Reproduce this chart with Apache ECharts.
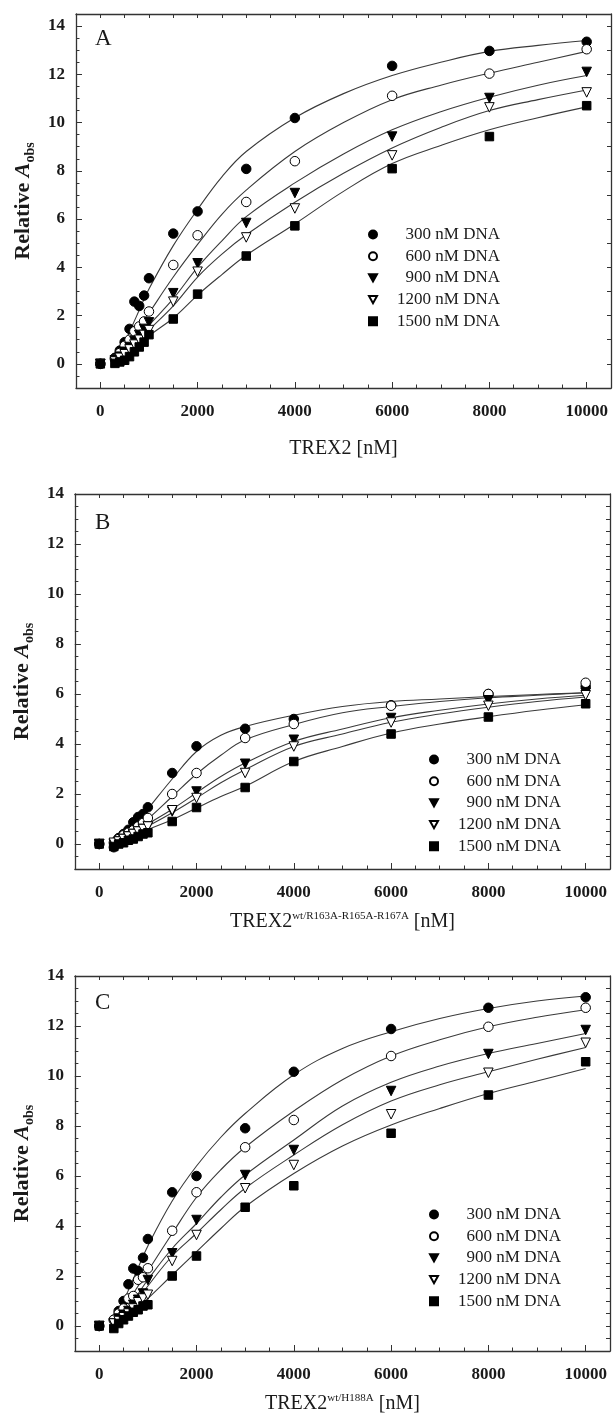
<!DOCTYPE html>
<html><head><meta charset="utf-8">
<script src="https://cdn.jsdelivr.net/npm/echarts@6/dist/echarts.min.js"></script>
<style>html,body{margin:0;padding:0;background:#fff}#c{width:616px;height:1420px}</style>
</head><body><div id="c"></div>
<script>
// ---------- data ----------
const seriesNames = ['300 nM DNA', '600 nM DNA', '900 nM DNA', '1200 nM DNA', '1500 nM DNA'];
const pointX = [0, 300, 400, 500, 600, 700, 800, 900, 1000, 1500, 2000, 3000, 4000, 6000, 8000, 10000];
const fitX = [300, 500, 750, 1000, 1500, 2000, 2500, 3000, 4000, 5000, 6000, 7000, 8000, 9000, 10000];
const xTickValues = [0, 2000, 4000, 6000, 8000, 10000];
const yTickValues = [0, 2, 4, 6, 8, 10, 12, 14];
const panelLetters = ['A', 'B', 'C'];

// Panel A (TREX2)
const a300 = [0, 0.25, 0.55, 0.9, 1.45, 2.58, 2.4, 2.83, 3.55, 5.40, 6.32, 8.08, 10.19, 12.35, 12.97, 13.35];
const a600 = [0, 0.2, 0.45, 0.75, 1.0, 1.35, 1.55, 1.76, 2.17, 4.10, 5.33, 6.71, 8.40, 11.11, 12.03, 13.04];
const a900 = [0, 0.15, 0.3, 0.5, 0.7, 0.95, 1.2, 1.45, 1.72, 2.93, 4.17, 5.84, 7.08, 9.42, 11.02, 12.10];
const a1200 = [0, 0.1, 0.25, 0.4, 0.6, 0.8, 1.0, 1.2, 1.4, 2.58, 3.82, 5.24, 6.44, 8.64, 10.63, 11.25];
const a1500 = [0, 0.02, 0.08, 0.15, 0.3, 0.5, 0.7, 0.9, 1.21, 1.86, 2.89, 4.47, 5.72, 8.09, 9.42, 10.70];
const af300 = [0.2, 0.9, 2.0, 3.1, 4.9, 6.4, 7.75, 8.8, 10.2, 11.2, 11.95, 12.5, 12.95, 13.2, 13.4];
const af600 = [0.15, 0.6, 1.35, 2.1, 3.6, 4.95, 6.2, 7.2, 8.8, 10.0, 10.95, 11.55, 12.05, 12.5, 12.95];
const af900 = [0.1, 0.45, 1.0, 1.6, 2.7, 4.0, 5.1, 6.1, 7.5, 8.7, 9.7, 10.45, 11.05, 11.55, 11.95];
const af1200 = [0.05, 0.35, 0.85, 1.4, 2.4, 3.6, 4.55, 5.35, 6.7, 7.9, 8.95, 9.8, 10.5, 10.95, 11.35];
const af1500 = [0.0, 0.2, 0.65, 1.15, 1.9, 2.85, 3.7, 4.5, 5.8, 7.15, 8.3, 9.05, 9.7, 10.2, 10.65];

// Panel B (TREX2 wt/R163A-R165A-R167A)
const b300 = [0, -0.13, 0.24, 0.4, 0.57, 0.87, 1.08, 1.2, 1.47, 2.84, 3.91, 4.61, 5.0, 5.55, 6.0, 6.3];
const b600 = [0, 0.05, 0.2, 0.35, 0.45, 0.55, 0.7, 0.84, 1.04, 2.0, 2.84, 4.24, 4.8, 5.53, 6.0, 6.45];
const b900 = [0, 0.0, 0.1, 0.2, 0.3, 0.4, 0.5, 0.6, 0.7, 1.3, 2.1, 3.21, 4.17, 5.04, 5.75, 6.05];
const b1200 = [0, 0.05, 0.1, 0.2, 0.3, 0.4, 0.5, 0.6, 0.7, 1.35, 1.84, 2.84, 3.9, 4.86, 5.53, 5.95];
const b1500 = [0, -0.1, 0.0, 0.05, 0.15, 0.2, 0.3, 0.4, 0.45, 0.9, 1.46, 2.26, 3.3, 4.4, 5.08, 5.61];
const bf300 = [0.0, 0.3, 0.8, 1.4, 2.6, 3.7, 4.35, 4.7, 5.15, 5.5, 5.7, 5.8, 5.9, 5.98, 6.05];
const bf600 = [0.05, 0.25, 0.6, 1.0, 1.9, 2.8, 3.55, 4.17, 4.78, 5.25, 5.5, 5.7, 5.85, 5.95, 6.05];
const bf900 = [0.05, 0.2, 0.5, 0.8, 1.39, 2.05, 2.7, 3.24, 4.1, 4.6, 5.05, 5.35, 5.6, 5.8, 5.95];
const bf1200 = [0.05, 0.2, 0.45, 0.71, 1.25, 1.84, 2.45, 2.97, 3.9, 4.4, 4.87, 5.2, 5.47, 5.7, 5.88];
const bf1500 = [0.0, 0.1, 0.3, 0.57, 0.97, 1.44, 1.9, 2.31, 3.3, 3.9, 4.44, 4.8, 5.09, 5.35, 5.57];

// Panel C (TREX2 wt/H188A)
const c300 = [0, 0.25, 0.6, 1.0, 1.67, 2.3, 2.2, 2.73, 3.48, 5.35, 6.0, 7.91, 10.17, 11.88, 12.73, 13.15];
const c600 = [0, 0.25, 0.5, 0.7, 1.1, 1.2, 1.85, 1.95, 2.31, 3.81, 5.35, 7.15, 8.24, 10.8, 11.97, 12.73];
const c900 = [0, 0.1, 0.3, 0.45, 0.6, 0.85, 1.05, 1.3, 1.84, 2.91, 4.24, 6.04, 7.04, 9.4, 10.88, 11.84];
const c1200 = [0, 0.1, 0.2, 0.35, 0.5, 0.7, 0.95, 1.1, 1.25, 2.6, 3.64, 5.51, 6.44, 8.47, 10.13, 11.33];
const c1500 = [0, -0.1, 0.1, 0.25, 0.4, 0.55, 0.65, 0.8, 0.85, 2.0, 2.8, 4.75, 5.61, 7.71, 9.24, 10.57];
const cf300 = [0.2, 1.0, 2.1, 3.2, 5.0, 6.4, 7.55, 8.5, 10.05, 11.1, 11.77, 12.3, 12.7, 13.0, 13.2];
const cf600 = [0.15, 0.7, 1.45, 2.2, 3.7, 5.15, 6.25, 7.15, 8.6, 9.85, 10.8, 11.45, 11.97, 12.35, 12.65];
const cf900 = [0.1, 0.5, 1.15, 1.85, 3.1, 4.1, 5.15, 6.04, 7.44, 8.8, 9.75, 10.4, 10.9, 11.3, 11.7];
const cf1200 = [0.05, 0.4, 0.95, 1.6, 2.8, 3.71, 4.65, 5.51, 6.84, 8.05, 9.0, 9.65, 10.17, 10.67, 11.14];
const cf1500 = [0.0, 0.25, 0.65, 1.1, 2.04, 2.97, 3.9, 4.77, 6.1, 7.2, 8.04, 8.7, 9.3, 9.8, 10.3];

const panelPoints = [[a300, a600, a900, a1200, a1500], [b300, b600, b900, b1200, b1500], [c300, c600, c900, c1200, c1500]];
const panelFits = [[af300, af600, af900, af1200, af1500], [bf300, bf600, bf900, bf1200, bf1500], [cf300, cf600, cf900, cf1200, cf1500]];
const xNames = ['TREX2 [nM]', 'TREX2{sup|wt/R163A-R165A-R167A} [nM]', 'TREX2{sup|wt/H188A} [nM]'];

// ---------- layout / style ----------
const SERIF = '"Liberation Serif", "Times New Roman", serif';
const INK = '#1a1a1a';
const grids = [
  {left: 76, top: 14, width: 535, height: 374, yMax: 14.5, xGap: 51, rightInt: 1,
   legend: {left: 368, top: 226}, letter: {x: 95, y: 27}},
  {left: 73, top: 494, width: 537, height: 375, yMax: 14, xGap: 43, rightInt: 0.5,
   legend: {left: 429, top: 751}, letter: {x: 95, y: 511}},
  {left: 73, top: 976, width: 537, height: 375, yMax: 14, xGap: 43, rightInt: 0.5,
   legend: {left: 429, top: 1206}, letter: {x: 95, y: 991}}
];
const symbols = [
  {symbol: 'circle', fill: '#000', size: 9.5},
  {symbol: 'circle', fill: '#fff', size: 9.5},
  {symbol: 'path://M0,0L10,0L5,9Z', fill: '#000', size: 9.5},
  {symbol: 'path://M0,0L10,0L5,9Z', fill: '#fff', size: 9.5},
  {symbol: 'rect', fill: '#000', size: 8.5}
];

const option = {
  animation: false,
  backgroundColor: '#fff',
  grid: [], xAxis: [], yAxis: [], series: [], legend: [], title: []
};

grids.forEach((g, p) => {
  option.grid.push({left: g.left, top: g.top, width: g.width, height: g.height, containLabel: false});
  const lineStyle = {color: '#333', width: 1.3};
  // x axes
  option.xAxis.push({
    gridIndex: p, type: 'value', min: -500, max: 10500, position: 'bottom',
    axisLine: {show: true, onZero: false, lineStyle},
    axisTick: {show: true, inside: true, length: 6, customValues: xTickValues, lineStyle: {color: '#333'}},
    axisLabel: {show: true, customValues: xTickValues, margin: 15, fontFamily: SERIF, fontWeight: 'bold', fontSize: 17, color: INK,
      formatter: v => String(v)},
    splitLine: {show: false},
    name: xNames[p], nameLocation: 'middle', nameGap: g.xGap,
    nameTextStyle: {fontFamily: SERIF, fontSize: 20, color: INK, lineHeight: 20,
      rich: {sup: {fontFamily: SERIF, fontSize: 11, lineHeight: 11, padding: [0, 0, 12, 0], color: INK}}}
  });
  option.xAxis.push({
    gridIndex: p, type: 'value', min: -500, max: 10500, interval: 500, position: 'bottom',
    axisLine: {show: false, onZero: false}, axisLabel: {show: false}, splitLine: {show: false},
    axisTick: {show: true, inside: true, length: 3.5, lineStyle: {color: '#333'}}
  });
  option.xAxis.push({
    gridIndex: p, type: 'value', min: -500, max: 10500, interval: 500, position: 'top',
    axisLine: {show: true, onZero: false, lineStyle}, axisLabel: {show: false}, splitLine: {show: false},
    axisTick: {show: true, inside: true, length: 4, lineStyle: {color: '#333'}}
  });
  // y axes
  option.yAxis.push({
    gridIndex: p, type: 'value', min: -1, max: g.yMax, position: 'left',
    axisLine: {show: true, onZero: false, lineStyle},
    axisTick: {show: true, inside: true, length: 6, customValues: yTickValues, lineStyle: {color: '#333'}},
    axisLabel: {show: true, customValues: yTickValues, margin: 11, fontFamily: SERIF, fontWeight: 'bold', fontSize: 17, color: INK},
    splitLine: {show: false},
    name: '{r|Relative }{i|A}{s|obs}', nameLocation: 'middle', nameGap: 40,
    nameTextStyle: {fontFamily: SERIF, fontWeight: 'bold', fontSize: 22, color: INK,
      rich: {
        r: {fontFamily: SERIF, fontWeight: 'bold', fontSize: 22, lineHeight: 22, color: INK},
        i: {fontFamily: SERIF, fontWeight: 'bold', fontStyle: 'italic', fontSize: 22, lineHeight: 22, color: INK},
        s: {fontFamily: SERIF, fontWeight: 'bold', fontSize: 14, lineHeight: 14, padding: [14, 0, 0, 0], color: INK}
      }}
  });
  option.yAxis.push({
    gridIndex: p, type: 'value', min: -1, max: g.yMax, interval: 0.5, position: 'left',
    axisLine: {show: false, onZero: false}, axisLabel: {show: false}, splitLine: {show: false},
    axisTick: {show: true, inside: true, length: 3.5, lineStyle: {color: '#333'}}
  });
  option.yAxis.push({
    gridIndex: p, type: 'value', min: -1, max: g.yMax, interval: g.rightInt, position: 'right',
    axisLine: {show: true, onZero: false, lineStyle}, axisLabel: {show: false}, splitLine: {show: false},
    axisTick: {show: true, inside: true, length: 4, lineStyle: {color: '#333'}}
  });

  // fitted curves
  panelFits[p].forEach((vals, k) => {
    option.series.push({
      type: 'line', name: 'fit ' + seriesNames[k] + ' ' + p, xAxisIndex: p * 3, yAxisIndex: p * 3,
      data: fitX.map((x, i) => [x, vals[i]]), smooth: 0.4, showSymbol: false, symbol: 'none',
      lineStyle: {color: '#3a3a3a', width: 1.1}, z: 2, silent: true
    });
  });
  // data points
  panelPoints[p].forEach((vals, k) => {
    const s = symbols[k];
    option.series.push({
      type: 'scatter', name: seriesNames[k], xAxisIndex: p * 3, yAxisIndex: p * 3,
      data: pointX.map((x, i) => [x, vals[i]]), symbol: s.symbol, symbolSize: s.size,
      itemStyle: {color: s.fill, borderColor: '#000', borderWidth: 1, opacity: 1}, z: 5
    });
  });

  option.legend.push({
    orient: 'vertical', left: g.legend.left, top: g.legend.top, padding: 0,
    data: seriesNames.map((n, k) => ({name: n, icon: symbols[k].symbol})),
    itemWidth: 8, itemHeight: 8, itemGap: 4.7, selectedMode: false,
    textStyle: {fontFamily: SERIF, fontSize: 17, lineHeight: 14, color: INK,
      rich: {r: {fontFamily: SERIF, fontSize: 17, lineHeight: 14, width: 118, align: 'right', color: INK}}},
    formatter: n => '{r|' + n + '}'
  });
  option.title.push({
    text: panelLetters[p], left: g.letter.x, top: g.letter.y,
    textStyle: {fontFamily: SERIF, fontWeight: 'normal', fontSize: 23, color: INK}, padding: 0
  });
});

const chart = echarts.init(document.getElementById('c'), null, {renderer: 'canvas', width: 616, height: 1420});
chart.setOption(option);
</script>
</body></html>
